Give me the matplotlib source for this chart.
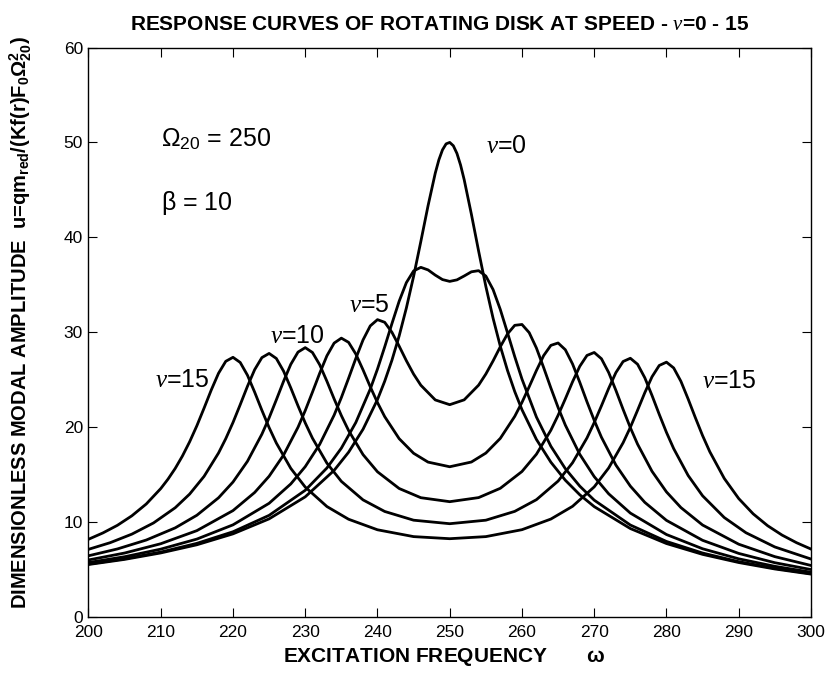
import matplotlib
matplotlib.use("Agg")
import matplotlib.pyplot as plt
from matplotlib import font_manager

# response curves, one omega list per curve
w0 = [200, 205, 210, 215, 220, 225, 230, 234, 236, 238, 240, 241, 242, 243, 244, 245, 246, 247, 248, 248.5, 249,
      249.5, 250, 250.5, 251, 251.5, 252, 253, 254, 255, 256, 257, 258, 259, 260, 262, 264, 266, 268, 270, 275,
      280, 285, 290, 295, 300]
u0 = [5.53, 6.07, 6.75, 7.61, 8.76, 10.34, 12.66, 15.45, 17.36, 19.78, 22.91, 24.84, 27.05, 29.61, 32.56, 35.89,
      39.56, 43.33, 46.77, 48.17, 49.22, 49.85, 50.00, 49.65, 48.84, 47.62, 46.08, 42.43, 38.55, 34.83, 31.48,
      28.53, 25.97, 23.75, 21.84, 18.71, 16.31, 14.41, 12.88, 11.63, 9.32, 7.74, 6.60, 5.74, 5.06, 4.52]

w2 = [200, 205, 210, 215, 220, 225, 230, 233, 235, 237, 239, 240, 241, 242, 243, 244, 245, 246, 247, 248, 249,
      250, 251, 252, 253, 254, 255, 256, 257, 258, 259, 260, 262, 264, 266, 268, 270, 275, 280, 285, 290, 295, 300]
u2 = [5.58, 6.14, 6.84, 7.76, 8.98, 10.71, 13.35, 15.70, 17.79, 20.49, 24.01, 26.12, 28.46, 30.91, 33.27, 35.23,
      36.46, 36.84, 36.57, 36.02, 35.55, 35.36, 35.52, 35.93, 36.37, 36.49, 35.92, 34.50, 32.40, 29.94, 27.43,
      25.07, 21.07, 17.99, 15.63, 13.79, 12.31, 9.69, 7.96, 6.74, 5.83, 5.13, 4.57]

w5 = [200, 205, 210, 215, 220, 225, 228, 230, 232, 234, 235, 236, 237, 238, 239, 240, 241, 242, 243, 244, 245,
      246, 248, 250, 252, 254, 255, 256, 257, 258, 259, 260, 261, 262, 263, 264, 265, 266, 268, 270, 272, 275,
      280, 285, 290, 295, 300]
u5 = [5.74, 6.35, 7.15, 8.21, 9.71, 11.98, 14.02, 15.84, 18.19, 21.27, 23.12, 25.15, 27.24, 29.19, 30.67, 31.33,
      31.05, 30.00, 28.54, 27.00, 25.59, 24.42, 22.87, 22.37, 22.88, 24.43, 25.60, 26.98, 28.47, 29.83, 30.73,
      30.82, 29.96, 28.34, 26.28, 24.13, 22.08, 20.22, 17.14, 14.79, 12.98, 10.95, 8.69, 7.19, 6.13, 5.34, 4.72]

w7 = [200, 205, 210, 215, 220, 223, 225, 227, 229, 230, 231, 232, 233, 234, 235, 236, 237, 238, 239, 240, 241,
      243, 245, 247, 250, 253, 255, 257, 259, 260, 261, 262, 263, 264, 265, 266, 267, 268, 269, 270, 271, 273,
      275, 277, 280, 285, 290, 295, 300]
u7 = [6.01, 6.74, 7.72, 9.10, 11.21, 13.12, 14.83, 17.06, 19.99, 21.75, 23.69, 25.68, 27.52, 28.86, 29.38, 28.94,
      27.71, 26.04, 24.26, 22.59, 21.11, 18.79, 17.25, 16.32, 15.83, 16.33, 17.27, 18.82, 21.14, 22.61, 24.26,
      25.97, 27.54, 28.62, 28.87, 28.16, 26.66, 24.73, 22.67, 20.72, 18.94, 16.01, 13.79, 12.08, 10.18, 8.08,
      6.70, 5.72, 5.00]

w10 = [200, 204, 208, 212, 215, 218, 220, 222, 224, 225, 226, 227, 228, 229, 230, 231, 232, 233, 234, 235, 236,
       238, 240, 243, 246, 250, 254, 257, 260, 262, 264, 265, 266, 267, 268, 269, 270, 271, 272, 273, 274, 275,
       276, 278, 280, 282, 285, 290, 295, 300]
u10 = [6.45, 7.17, 8.11, 9.39, 10.72, 12.56, 14.22, 16.40, 19.26, 20.98, 22.88, 24.83, 26.62, 27.91, 28.38,
       27.87, 26.58, 24.84, 22.98, 21.22, 19.65, 17.11, 15.30, 13.54, 12.57, 12.15, 12.58, 13.56, 15.33, 17.15,
       19.68, 21.25, 22.98, 24.78, 26.41, 27.56, 27.87, 27.21, 25.76, 23.88, 21.87, 19.95, 18.21, 15.35, 13.18,
       11.53, 9.69, 7.67, 6.36, 5.43]

w12 = [200, 203, 206, 209, 212, 214, 216, 218, 219, 220, 221, 222, 223, 224, 225, 226, 227, 228, 229, 230, 231,
       233, 235, 238, 241, 245, 250, 255, 259, 262, 265, 267, 269, 270, 271, 272, 273, 274, 275, 276, 277, 278,
       279, 280, 281, 283, 285, 288, 291, 295, 300]
u12 = [7.13, 7.83, 8.73, 9.91, 11.51, 12.95, 14.82, 17.28, 18.79, 20.49, 22.37, 24.30, 26.06, 27.33, 27.77,
       27.24, 25.91, 24.14, 22.25, 20.45, 18.84, 16.21, 14.29, 12.34, 11.12, 10.20, 9.83, 10.20, 11.13, 12.36,
       14.32, 16.25, 18.87, 20.48, 22.25, 24.08, 25.75, 26.92, 27.26, 26.63, 25.21, 23.34, 21.35, 19.45, 17.74,
       14.91, 12.77, 10.48, 8.88, 7.38, 6.11]

w15 = [200, 202, 204, 206, 208, 210, 211, 212, 213, 214, 215, 216, 217, 218, 219, 220, 221, 222, 223, 224, 225,
       226, 228, 230, 233, 236, 240, 245, 250, 255, 260, 264, 267, 270, 272, 274, 275, 276, 277, 278, 279, 280,
       281, 282, 283, 284, 285, 286, 288, 290, 292, 294, 296, 298, 300]
u15 = [8.19, 8.86, 9.66, 10.66, 11.91, 13.53, 14.52, 15.65, 16.96, 18.46, 20.15, 22.01, 23.93, 25.68, 26.94,
       27.36, 26.82, 25.48, 23.69, 21.78, 19.96, 18.33, 15.66, 13.69, 11.64, 10.30, 9.19, 8.47, 8.25, 8.47, 9.20,
       10.32, 11.66, 13.71, 15.70, 18.36, 19.98, 21.78, 23.63, 25.31, 26.50, 26.85, 26.24, 24.83, 22.97, 21.00,
       19.11, 17.41, 14.60, 12.48, 10.87, 9.62, 8.63, 7.83, 7.16]

curves = [(w0, u0), (w2, u2), (w5, u5), (w7, u7), (w10, u10), (w12, u12), (w15, u15)]

xticks = [200, 210, 220, 230, 240, 250, 260, 270, 280, 290, 300]
yticks = [0, 10, 20, 30, 40, 50, 60]

names = set(f.name for f in font_manager.fontManager.ttflist)
narrow = 'Liberation Sans Narrow' if 'Liberation Sans Narrow' in names else 'Liberation Sans'

plt.rcParams['font.family'] = ['Liberation Sans', 'DejaVu Sans']
plt.rcParams['mathtext.fontset'] = 'custom'
plt.rcParams['mathtext.rm'] = 'Liberation Sans'
plt.rcParams['mathtext.bf'] = 'Liberation Sans:bold'
plt.rcParams['mathtext.it'] = 'Liberation Serif:italic'

fig = plt.figure(figsize=(8.27, 6.73), dpi=100)
ax = fig.add_axes([0.1070, 0.0832, 0.8736, 0.8462])

for w, u in curves:
    ax.plot(w, u, color='black', lw=2.0)

ax.set_xlim(200, 300)
ax.set_ylim(0, 60)
ax.set_xticks(xticks)
ax.set_yticks(yticks)
ax.tick_params(direction='in', length=6.5, width=0.8, top=True, right=True, labelsize=12.5)
ax.tick_params(axis='x', pad=6)
ax.tick_params(axis='y', pad=4)
for lab in ax.get_xticklabels() + ax.get_yticklabels():
    lab.set_family(narrow)
for s in ax.spines.values():
    s.set_linewidth(1.0)

fig.text(0.532, 0.963, 'RESPONSE CURVES OF ROTATING DISK AT SPEED - ' + r'$\nu$' + '=0 - 15',
         ha='center', va='center', fontsize=15, fontweight='bold', family=narrow)
fig.text(0.537, 0.024, 'EXCITATION FREQUENCY       ' + r'$\mathbf{\omega}$',
         ha='center', va='center', fontsize=15, fontweight='bold', family=narrow)
fig.text(0.025, 0.52,
         'DIMENSIONLESS MODAL AMPLITUDE  u=qm' + r'$_{\mathbf{red}}$' + '/(Kf(r)F'
         + r'$_{\mathbf{0}}\mathbf{\Omega}_{\mathbf{20}}^{\mathbf{2}}$' + ')',
         rotation=90, ha='center', va='center', fontsize=14.5, fontweight='bold', family=narrow)

ax.text(210, 49.6, r'$\mathrm{\Omega}_{\mathrm{20}}$' + ' = 250', fontsize=18)
ax.text(210, 42.9, r'$\mathrm{\beta}$' + ' = 10', fontsize=18)
ax.text(255, 48.9, r'$\nu$' + '=0', fontsize=18)
ax.text(236.1, 32.1, r'$\nu$' + '=5', fontsize=18)
ax.text(225.1, 28.9, r'$\nu$' + '=10', fontsize=18)
ax.text(209.2, 24.2, r'$\nu$' + '=15', fontsize=18)
ax.text(284.9, 24.1, r'$\nu$' + '=15', fontsize=18)

fig.savefig('out.png', dpi=100)
